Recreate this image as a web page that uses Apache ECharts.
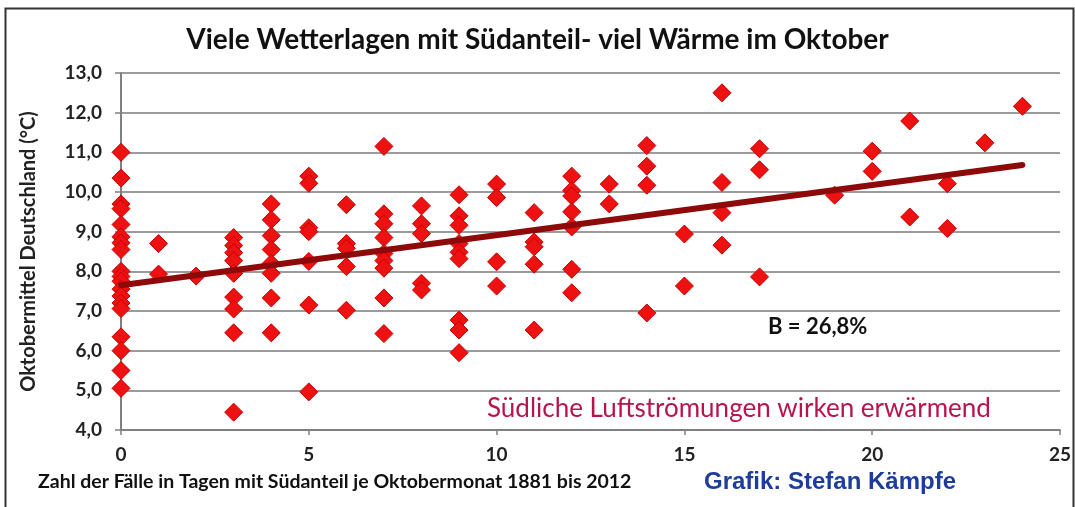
<!DOCTYPE html>
<html>
<head>
<meta charset="utf-8">
<script src="https://cdn.jsdelivr.net/npm/echarts@6/dist/echarts.min.js"></script>
<style>html,body{margin:0;padding:0;background:#fff;}#c{width:1075px;height:507px;}</style>
</head>
<body>
<div id="c"></div>
<script>
// Days with southern component per October (x) and October mean temperature (y)
const daysX = [
  0,0,0,0,0,0,0,0,0,0,0,0,0,0,0,0,0,0,0,
  1,1,
  2,
  3,3,3,3,3,3,3,3,3,
  4,4,4,4,4,4,4,4,
  5,5,5,5,5,5,5,
  6,6,6,6,6,
  7,7,7,7,7,7,7,7,7,
  8,8,8,8,8,
  9,9,9,9,9,9,9,9,9,
  10,10,10,10,
  11,11,11,11,11,
  12,12,12,12,12,12,12,
  13,13,
  14,14,14,14,
  15,15,
  16,16,16,16,
  17,17,17,
  19,
  20,20,
  21,21,
  22,22,
  23,
  24
];
const tempY = [
  11.0,10.35,9.7,9.58,9.18,8.87,8.72,8.55,8.0,7.87,7.75,7.55,7.38,7.2,7.06,6.35,6.0,5.5,5.05,
  8.7,7.93,
  7.88,
  8.85,8.65,8.47,8.27,7.95,7.35,7.05,6.45,4.45,
  9.7,9.3,8.9,8.55,8.2,7.95,7.33,6.45,
  10.4,10.22,9.1,9.0,8.25,7.15,4.96,
  9.68,8.7,8.58,8.12,7.02,
  11.15,9.45,9.2,8.85,8.45,8.27,8.08,7.33,6.43,
  9.65,9.2,8.95,7.7,7.53,
  9.93,9.4,9.16,8.7,8.48,8.32,6.77,6.52,5.95,
  10.2,9.86,8.24,7.63,
  9.48,8.74,8.62,8.18,6.52,
  10.4,10.04,9.9,9.5,9.12,8.05,7.46,
  10.2,9.7,
  11.17,10.65,10.17,6.95,
  8.94,7.63,
  12.5,10.24,9.48,8.66,
  11.09,10.56,7.86,
  9.92,
  11.03,10.52,
  11.79,9.37,
  10.21,9.08,
  11.24,
  12.16
];
// Linear trend line endpoints
const trendX = [0, 24];
const trendY = [7.65, 10.68];
const xTicks = [0, 5, 10, 15, 20, 25];
const yTicks = [4, 5, 6, 7, 8, 9, 10, 11, 12, 13];

const titleText = 'Viele Wetterlagen mit Südanteil- viel Wärme im Oktober';
const xName = 'Zahl der Fälle in Tagen mit Südanteil je Oktobermonat 1881 bis 2012';
const yName = 'Oktobermittel Deutschland (°C)';
const creditText = 'Grafik: Stefan Kämpfe';
const noteText = 'Südliche Luftströmungen wirken erwärmend';
const rText = 'B = 26,8%';

const points = daysX.map((x, i) => [x, tempY[i]]);
const trend = trendX.map((x, i) => [x, trendY[i]]);

const font = 'Lato, "Open Sans", sans-serif';
const chart = echarts.init(document.getElementById('c'), null, {renderer: 'canvas'});
chart.setOption({
  backgroundColor: '#fff',
  animation: false,
  title: {
    text: titleText, left: 'center', top: 21,
    textStyle: {fontFamily: font, fontWeight: 'bold', fontSize: 28, color: '#111'}
  },
  grid: {left: 121, right: 15, top: 73, bottom: 77, containLabel: false},
  xAxis: {
    type: 'value', min: 0, max: 25, interval: 5,
    axisLine: {show: true, lineStyle: {color: '#808080', width: 2}},
    axisTick: {show: true, length: 5, lineStyle: {color: '#808080', width: 1.5}},
    axisLabel: {margin: 15, fontFamily: font, fontWeight: 'bold', fontSize: 19, color: '#222'},
    splitLine: {show: false}
  },
  yAxis: {
    type: 'value', min: 4, max: 13, interval: 1,
    name: yName, nameLocation: 'middle', nameGap: 82, nameRotate: 90,
    nameTextStyle: {fontFamily: font, fontWeight: 'bold', fontSize: 20, color: '#222'},
    axisLine: {show: true, lineStyle: {color: '#808080', width: 2}},
    axisTick: {show: true, length: 6, lineStyle: {color: '#808080', width: 1.5}},
    axisLabel: {margin: 19, fontFamily: font, fontWeight: 'bold', fontSize: 19, color: '#222',
      formatter: v => v.toFixed(1).replace('.', ',')},
    splitLine: {show: true, lineStyle: {color: '#7a7a7a', width: 1.5}}
  },
  series: [
    {
      type: 'scatter', data: points, symbol: 'diamond', symbolSize: [18, 18],
      itemStyle: {color: '#ee1111', opacity: 1, borderColor: '#c80000', borderWidth: 1}, z: 3
    },
    {
      type: 'line', data: trend, symbol: 'none', smooth: false,
      lineStyle: {color: '#8e0a0a', width: 6, cap: 'round'}, z: 4
    }
  ],
  graphic: [
    {type: 'rect', left: 3, top: 6, shape: {width: 1068, height: 500},
      style: {fill: 'none', stroke: '#333', lineWidth: 2}, silent: true},
    {type: 'text', left: 768, top: 316,
      style: {text: rText, font: 'bold 22px ' + font, fill: '#111'}},
    {type: 'text', left: 487, top: 396,
      style: {text: noteText, font: '26px ' + font, fill: '#b8144c'}},
    {type: 'text', left: 38, top: 472,
      style: {text: xName, font: 'bold 19.5px ' + font, fill: '#111'}},
    {type: 'text', left: 704, top: 470,
      style: {text: creditText, font: 'bold 24px "Liberation Sans", Arial, sans-serif', fill: '#1d3c9c'}}
  ]
});
</script>
</body>
</html>
